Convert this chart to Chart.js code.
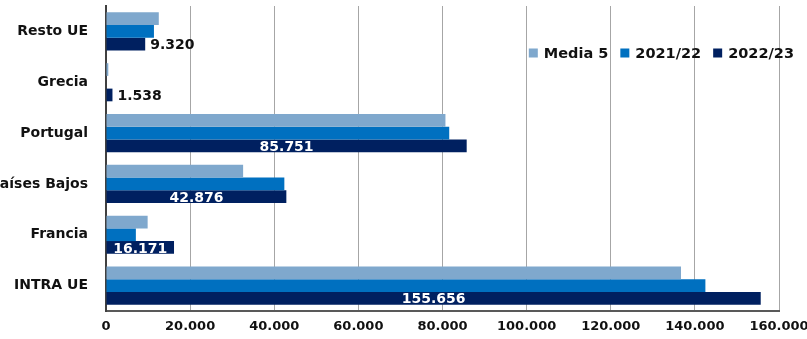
<!DOCTYPE html>
<html>
<head>
<meta charset="utf-8">
<script src="https://cdn.jsdelivr.net/npm/chart.js@4/dist/chart.umd.min.js"></script>
<style>
html,body{margin:0;padding:0;background:#fff;}
#wrap{width:807px;height:339px;position:relative;}
</style>
</head>
<body>
<div id="wrap"><canvas id="c" width="807" height="339"></canvas></div>
<script>
const categories = ["Resto UE", "Grecia", "Portugal", "Países Bajos", "Francia", "INTRA UE"];
const seriesNames = ["Media 5", "2021/22", "2022/23"];
const media5 = [12550, 550, 80700, 32600, 9900, 136700];
const v2021 = [11400, 120, 81600, 42400, 7100, 142500];
const v2022 = [9320, 1538, 85751, 42876, 16171, 155656];
const xTicks = [0, 20000, 40000, 60000, 80000, 100000, 120000, 140000, 160000];
const colors = ["#7FA8CD", "#0070C0", "#002060"];

const FONT = "'DejaVu Sans', Verdana, sans-serif";
function fmt(v){ return v.toString().replace(/\B(?=(\d{3})+(?!\d))/g, "."); }

const labelPlugin = {
  id: 'valueLabels',
  afterDatasetsDraw(chart){
    const ctx = chart.ctx;
    const meta = chart.getDatasetMeta(2);
    ctx.save();
    ctx.font = "bold 14px " + FONT;
    ctx.textBaseline = 'middle';
    meta.data.forEach((bar, i) => {
      const v = v2022[i];
      const txt = fmt(v);
      const w = ctx.measureText(txt).width;
      const left = bar.base, right = bar.x;
      if (right - left > w + 6) {
        ctx.fillStyle = '#ffffff';
        ctx.textAlign = 'center';
        ctx.fillText(txt, (left + right) / 2, bar.y + 1.5);
      } else {
        ctx.fillStyle = '#111111';
        ctx.textAlign = 'left';
        ctx.fillText(txt, right + 5, bar.y + 1.5);
      }
    });
    ctx.restore();
  }
};

const legendPlugin = {
  id: 'innerLegend',
  afterDraw(chart){
    const ctx = chart.ctx;
    ctx.save();
    ctx.font = "bold 14.5px " + FONT;
    ctx.textBaseline = 'middle';
    const box = 9, gap = 6, spacing = 12;
    const widths = seriesNames.map(n => ctx.measureText(n).width);
    let total = 0;
    widths.forEach((w, i) => { total += box + gap + w + (i < widths.length - 1 ? spacing : 0); });
    let x = chart.chartArea.right + 15 - total;
    const y = 53;
    seriesNames.forEach((n, i) => {
      ctx.fillStyle = colors[i];
      ctx.fillRect(x, y - box / 2, box, box);
      x += box + gap;
      ctx.fillStyle = '#111111';
      ctx.textAlign = 'left';
      ctx.fillText(n, x, y + 1);
      x += widths[i] + spacing;
    });
    ctx.restore();
  }
};

new Chart(document.getElementById('c'), {
  type: 'bar',
  data: {
    labels: categories,
    datasets: [
      { label: seriesNames[0], data: media5, backgroundColor: colors[0] },
      { label: seriesNames[1], data: v2021, backgroundColor: colors[1] },
      { label: seriesNames[2], data: v2022, backgroundColor: colors[2] }
    ]
  },
  options: {
    indexAxis: 'y',
    responsive: false,
    animation: false,
    devicePixelRatio: 1,
    layout: { padding: { left: 0, right: 28, top: 6, bottom: 0 } },
    datasets: { bar: { categoryPercentage: 0.75, barPercentage: 1.0, borderWidth: 0 } },
    plugins: { legend: { display: false }, tooltip: { enabled: false } },
    scales: {
      x: {
        min: 0, max: 160000,
        afterBuildTicks: (s) => { s.ticks = xTicks.map(v => ({ value: v })); },
        afterFit: (s) => { s.height = 28; s.paddingLeft = 0; s.paddingRight = 0; s.paddingTop = 0; s.paddingBottom = 0; },
        grid: { color: '#a6a6a6', lineWidth: 1, drawTicks: false },
        border: { display: true, color: '#595959', width: 2 },
        ticks: {
          padding: 8,
          color: '#111111',
          font: { family: FONT, size: 13, weight: 'bold' },
          callback: (v) => fmt(v),
          maxRotation: 0, autoSkip: false
        }
      },
      y: {
        afterFit: (s) => { s.width = 106; s.paddingTop = 0; s.paddingBottom = 0; s.paddingLeft = 0; s.paddingRight = 0; },
        grid: { display: false, drawTicks: false },
        border: { display: true, color: '#404040', width: 2 },
        ticks: {
          padding: 18,
          color: '#111111',
          font: { family: FONT, size: 14, weight: 'bold' }
        }
      }
    }
  },
  plugins: [labelPlugin, legendPlugin]
});
</script>
</body>
</html>
